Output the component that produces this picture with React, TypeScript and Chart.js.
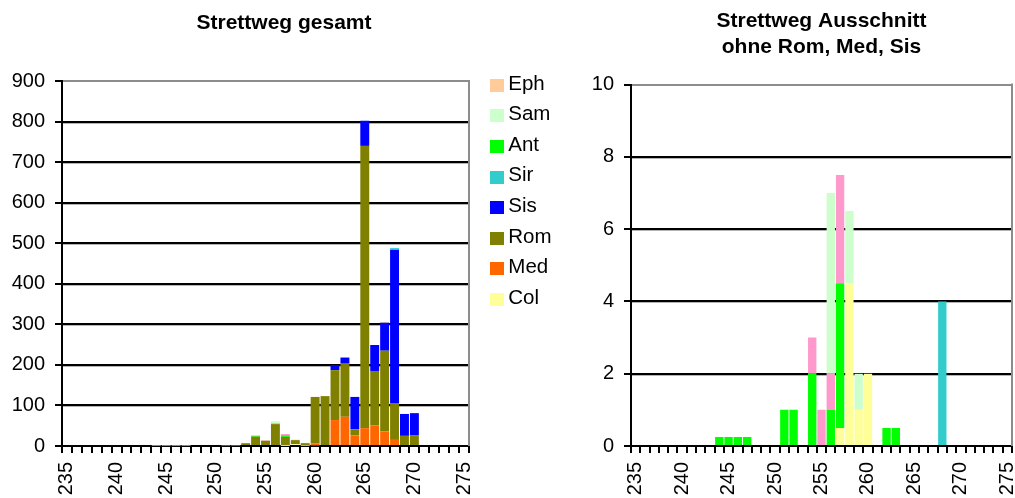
import React, { useEffect, useRef } from "react";
import { Chart, registerables } from "chart.js";

Chart.register(...registerables);

const FONT = "'Liberation Sans', Arial, Helvetica, sans-serif";

// Prägejahre (n. Chr.), eine Kategorie je Jahr
const years = [
  235, 236, 237, 238, 239,
  240, 241, 242, 243, 244,
  245, 246, 247, 248, 249,
  250, 251, 252, 253, 254,
  255, 256, 257, 258, 259,
  260, 261, 262, 263, 264,
  265, 266, 267, 268, 269,
  270, 271, 272, 273, 274,
  275,
];
const labelledYears = [235, 240, 245, 250, 255, 260, 265, 270, 275];

// Münzanzahl je Jahr und Münzstätte (Zeilen: 235-239, 240-244, ... , 275)
const col = [
  0, 0, 0, 0, 0,
  0, 0, 0, 0, 0,
  0, 0, 0, 0, 0,
  0, 0, 0, 0, 0,
  0, 0, 0.5, 4.5, 1,
  2, 0, 0, 0, 0,
  0, 0, 0, 0, 0,
  0, 0, 0, 0, 0,
  0,
];
const med = [
  0, 0, 0, 0, 0,
  0, 0, 0, 0, 0,
  0, 0, 0, 0, 0,
  0, 0, 0, 0, 0,
  0, 0, 0, 0, 0,
  4, 0, 64, 72, 26,
  44, 51, 36, 15, 0,
  0, 0, 0, 0, 0,
  0,
];
const rom = [
  0, 0, 0, 0, 0,
  0, 0, 0, 0, 0,
  0, 0, 0, 0, 0,
  0, 0, 0, 7, 23,
  13, 54, 22, 10, 6,
  115, 123, 123, 131, 15,
  696, 134, 199, 91, 25,
  27, 0, 0, 0, 0,
  0,
];
const sis = [
  0, 0, 0, 0, 0,
  0, 0, 0, 0, 0,
  0, 0, 0, 0, 0,
  0, 0, 0, 0, 0,
  0, 0, 0, 0, 0,
  0, 0, 12, 15, 80,
  62, 64, 69, 378, 54,
  54, 0, 0, 0, 0,
  0,
];
const sir = [
  0, 0, 0, 0, 0,
  0, 0, 0, 0, 0,
  0, 0, 0, 0, 0,
  0, 0, 0, 0, 0,
  0, 0, 0, 0, 0,
  0, 0, 0, 0, 0,
  0, 0, 0, 4, 0,
  0, 0, 0, 0, 0,
  0,
];
const ant = [
  0, 0, 0, 0, 0,
  0, 0, 0, 0, 0.25,
  0.25, 0.25, 0.25, 0, 0,
  0, 1, 1, 0, 2,
  0, 1, 4, 0, 0,
  0, 0, 0.5, 0.5, 0,
  0, 0, 0, 0, 0,
  0, 0, 0, 0, 0,
  0,
];
const vim = [
  0, 0, 0, 0, 0,
  0, 0, 0, 0, 0,
  0, 0, 0, 0, 0,
  0, 0, 0, 0, 1,
  1, 1, 3, 0, 0,
  0, 0, 0, 0, 0,
  0, 0, 0, 0, 0,
  0, 0, 0, 0, 0,
  0,
];
const sam = [
  0, 0, 0, 0, 0,
  0, 0, 0, 0, 0,
  0, 0, 0, 0, 0,
  0, 0, 0, 0, 0,
  0, 5, 0, 2, 1,
  0, 0, 0, 0, 0,
  0, 0, 0, 0, 0,
  0, 0, 0, 0, 0,
  0,
];
const eph = [
  0, 0, 0, 0, 0,
  0, 0, 0, 0, 0,
  0, 0, 0, 0, 0,
  0, 0, 0, 0, 0,
  0, 0, 0, 0, 0,
  0, 0, 0, 0, 0,
  0, 0, 2, 0, 0,
  0, 0, 0, 0, 0,
  0,
];

// Stapelreihenfolge von unten nach oben
const seriesNames = ["Col", "Med", "Rom", "Sis", "Sir", "Ant", "Vim", "Sam", "Eph"];
const seriesValues: Record<string, number[]> = {
  Col: col, Med: med, Rom: rom, Sis: sis, Sir: sir, Ant: ant, Vim: vim, Sam: sam, Eph: eph,
};
const detailNames = ["Col", "Sir", "Ant", "Vim", "Sam"];
const keyLabels = ["Eph", "Sam", "Ant", "Sir", "Sis", "Rom", "Med", "Col"];

const seriesColors: Record<string, string> = {
  Col: "#FFFF99",
  Med: "#FF6600",
  Rom: "#808000",
  Sis: "#0000FF",
  Sir: "#33CCCC",
  Ant: "#00FF00",
  Vim: "#FF99CC",
  Sam: "#CCFFCC",
  Eph: "#FFCC99",
};

const tickFont = { family: FONT, size: 20 };

// thin grey shadow under each gridline and a grey frame on the right edge
const framePlugin = {
  id: "frameLines",
  beforeDatasetsDraw(chart: any) {
    const { ctx, chartArea, scales } = chart;
    const y = scales.y;
    ctx.save();
    ctx.strokeStyle = "#b4b4b4";
    ctx.lineWidth = 1;
    y.ticks.forEach((t: any) => {
      if (t.value <= y.min || t.value >= y.max) return;
      const py = Math.round(y.getPixelForValue(t.value)) + 1.5;
      ctx.beginPath();
      ctx.moveTo(chartArea.left + 1, py);
      ctx.lineTo(chartArea.right, py);
      ctx.stroke();
    });
    ctx.restore();
  },
  afterDatasetsDraw(chart: any) {
    const { ctx, chartArea } = chart;
    ctx.save();
    ctx.strokeStyle = "#8c8c8c";
    ctx.lineWidth = 2;
    ctx.beginPath();
    ctx.moveTo(Math.round(chartArea.right), chartArea.top - 1);
    ctx.lineTo(Math.round(chartArea.right), chartArea.bottom);
    ctx.stroke();
    ctx.restore();
  },
};

// series key beside the plot area
const keyPlugin = {
  id: "sideKey",
  afterDraw(chart: any) {
    const { ctx, chartArea } = chart;
    ctx.save();
    ctx.font = `20.5px ${FONT}`;
    ctx.textBaseline = "middle";
    ctx.textAlign = "left";
    keyLabels.forEach((name, i) => {
      const cy = chartArea.top + 4.3 + i * 30.57;
      const x = chartArea.right + 21;
      ctx.fillStyle = seriesColors[name];
      ctx.fillRect(x, Math.round(cy - 6.5), 14, 13);
      ctx.fillStyle = "#000";
      ctx.fillText(name, x + 18.3, cy - 1.2);
    });
    ctx.restore();
  },
};

function buildDatasets(names: string[]) {
  return names.map((name) => ({
    label: name,
    data: seriesValues[name],
    backgroundColor: seriesColors[name],
    borderWidth: 0,
    barPercentage: 0.9,
    categoryPercentage: 1.0,
  }));
}

function buildScales(yMax: number, yStep: number, yWidth: number) {
  return {
    x: {
      type: "category",
      stacked: true,
      offset: true,
      z: 1,
      grid: {
        offset: true,
        drawOnChartArea: false,
        drawTicks: true,
        tickLength: 7,
        color: "#000",
        lineWidth: 2,
      },
      border: { display: true, color: "#000", width: 2 },
      ticks: {
        autoSkip: false,
        maxRotation: 90,
        minRotation: 90,
        padding: 9,
        color: "#000",
        font: tickFont,
        callback: (_v: any, i: number) =>
          labelledYears.includes(years[i]) ? String(years[i]) : "",
      },
      afterFit: (s: any) => {
        s.height = 52;
        s.paddingLeft = 0;
        s.paddingRight = 0;
      },
    },
    y: {
      stacked: true,
      min: 0,
      max: yMax,
      ticks: { stepSize: yStep, padding: 10, color: "#000", font: tickFont },
      grid: {
        color: (c: any) => (c.tick && c.tick.value === yMax ? "#8c8c8c" : "#000"),
        lineWidth: 2,
        drawTicks: true,
        tickLength: 7,
        tickColor: "#000",
      },
      border: { display: true, color: "#000", width: 2 },
      afterFit: (s: any) => {
        s.width = yWidth;
        s.paddingTop = 0;
        s.paddingBottom = 0;
      },
    },
  } as any;
}

export default function App() {
  const leftRef = useRef<HTMLCanvasElement>(null);
  const rightRef = useRef<HTMLCanvasElement>(null);

  useEffect(() => {
    const leftScales = buildScales(900, 100, 62);
    // reserved room on the right for the series key
    leftScales.keyRoom = {
      type: "linear",
      position: "right",
      display: true,
      grid: { display: false, drawTicks: false },
      border: { display: false },
      ticks: { display: false },
      afterFit: (s: any) => {
        s.width = 99;
      },
    };

    const total = new Chart(leftRef.current as HTMLCanvasElement, {
      type: "bar",
      data: { labels: years.map(String), datasets: buildDatasets(seriesNames) as any },
      options: {
        responsive: false,
        animation: false,
        events: [],
        layout: { padding: 0 },
        scales: leftScales,
        plugins: {
          legend: { display: false },
          tooltip: { enabled: false },
          title: {
            display: true,
            text: "Strettweg gesamt",
            color: "#000",
            font: { family: FONT, size: 21, weight: "bold", lineHeight: 1.2 },
            padding: { top: 10.7, bottom: 45.1 },
          },
        },
      },
      plugins: [framePlugin, keyPlugin],
    });

    const detail = new Chart(rightRef.current as HTMLCanvasElement, {
      type: "bar",
      data: { labels: years.map(String), datasets: buildDatasets(detailNames) as any },
      options: {
        responsive: false,
        animation: false,
        events: [],
        layout: { padding: { left: 0, right: 3, top: 0, bottom: 0 } },
        scales: buildScales(10, 2, 51),
        plugins: {
          legend: { display: false },
          tooltip: { enabled: false },
          title: {
            display: true,
            fullSize: false,
            text: ["Strettweg Ausschnitt", "ohne Rom, Med, Sis"],
            color: "#000",
            font: { family: FONT, size: 21, weight: "bold", lineHeight: 1.25 },
            padding: { top: 8.2, bottom: 23.8 },
          },
        },
      },
      plugins: [framePlugin],
    });

    return () => {
      total.destroy();
      detail.destroy();
    };
  }, []);

  return (
    <div
      style={{
        position: "absolute",
        left: 0,
        top: 0,
        width: 1015,
        height: 498,
        background: "#fff",
        overflow: "hidden",
      }}
    >
      <canvas
        ref={leftRef}
        width={568}
        height={498}
        style={{ position: "absolute", left: 0, top: 0 }}
      />
      <canvas
        ref={rightRef}
        width={435}
        height={498}
        style={{ position: "absolute", left: 580, top: 0 }}
      />
    </div>
  );
}
